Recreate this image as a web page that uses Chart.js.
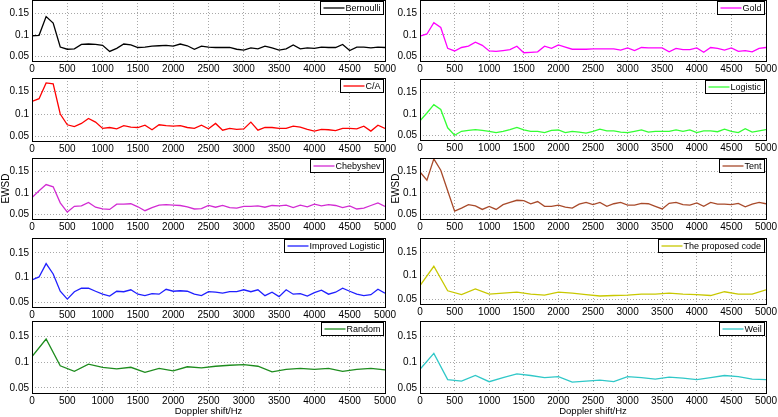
<!DOCTYPE html>
<html><head><meta charset="utf-8">
<script src="https://cdn.jsdelivr.net/npm/chart.js@4.4.1/dist/chart.umd.min.js"></script>
<style>
html,body{margin:0;padding:0;background:#fff;width:778px;height:417px;overflow:hidden;position:relative}
canvas{position:absolute}
</style></head><body>
<script>
// ---- data ----
const freq100 = [0,100,200,300,400,500,600,700,800,900,1000,1100,1200,1300,1400,1500,1600,1700,1800,1900,2000,2100,2200,2300,2400,2500,2600,2700,2800,2900,3000,3100,3200,3300,3400,3500,3600,3700,3800,3900,4000,4100,4200,4300,4400,4500,4600,4700,4800,4900,5000];
const freq200 = [0,200,400,600,800,1000,1200,1400,1600,1800,2000,2200,2400,2600,2800,3000,3200,3400,3600,3800,4000,4200,4400,4600,4800,5000];

const bernoulli = [0.098,0.099,0.142,0.127,0.072,0.067,0.068,0.078,0.079,0.078,0.076,0.062,0.069,0.079,0.077,0.071,0.072,0.074,0.075,0.076,0.074,0.079,0.075,0.067,0.074,0.072,0.071,0.071,0.071,0.067,0.065,0.070,0.068,0.074,0.070,0.065,0.068,0.077,0.068,0.070,0.069,0.072,0.071,0.071,0.078,0.064,0.072,0.072,0.070,0.072,0.071];
const gold = [0.097,0.102,0.128,0.117,0.069,0.063,0.071,0.074,0.083,0.076,0.063,0.062,0.064,0.066,0.074,0.059,0.060,0.061,0.074,0.069,0.077,0.072,0.067,0.067,0.067,0.068,0.068,0.068,0.068,0.065,0.070,0.064,0.071,0.070,0.070,0.070,0.061,0.069,0.066,0.066,0.070,0.060,0.071,0.069,0.065,0.070,0.062,0.064,0.061,0.069,0.071];
const ca = [0.128,0.134,0.169,0.167,0.100,0.076,0.072,0.079,0.090,0.082,0.068,0.070,0.067,0.074,0.071,0.070,0.075,0.065,0.076,0.074,0.073,0.074,0.070,0.068,0.075,0.067,0.079,0.064,0.068,0.066,0.067,0.082,0.064,0.070,0.070,0.068,0.068,0.073,0.071,0.066,0.062,0.066,0.065,0.063,0.068,0.068,0.067,0.073,0.062,0.075,0.068];
const logistic = [0.084,0.102,0.121,0.110,0.068,0.051,0.060,0.062,0.064,0.062,0.060,0.057,0.060,0.064,0.069,0.063,0.060,0.060,0.057,0.062,0.063,0.057,0.060,0.058,0.056,0.060,0.065,0.061,0.061,0.058,0.057,0.060,0.063,0.058,0.060,0.060,0.060,0.063,0.060,0.063,0.057,0.061,0.061,0.059,0.065,0.060,0.057,0.066,0.058,0.061,0.064];
const chebyshev = [0.089,0.105,0.119,0.114,0.077,0.056,0.069,0.070,0.078,0.067,0.063,0.062,0.074,0.074,0.075,0.068,0.059,0.066,0.072,0.073,0.072,0.071,0.068,0.063,0.064,0.071,0.067,0.071,0.066,0.065,0.069,0.069,0.070,0.067,0.071,0.070,0.072,0.066,0.072,0.068,0.074,0.070,0.073,0.071,0.066,0.070,0.063,0.065,0.071,0.077,0.069];
const tent = [0.148,0.129,0.178,0.152,0.105,0.058,0.065,0.073,0.070,0.062,0.069,0.062,0.073,0.078,0.083,0.082,0.075,0.080,0.069,0.069,0.072,0.067,0.065,0.074,0.078,0.073,0.078,0.069,0.075,0.078,0.072,0.072,0.076,0.075,0.069,0.063,0.076,0.078,0.073,0.072,0.077,0.069,0.078,0.074,0.074,0.073,0.076,0.068,0.074,0.078,0.075];
const improvedLogistic = [0.095,0.101,0.128,0.107,0.072,0.056,0.071,0.078,0.078,0.072,0.066,0.062,0.072,0.071,0.075,0.066,0.063,0.067,0.066,0.076,0.072,0.073,0.072,0.066,0.063,0.071,0.070,0.068,0.071,0.071,0.075,0.071,0.075,0.063,0.070,0.061,0.075,0.066,0.067,0.062,0.069,0.074,0.066,0.070,0.078,0.072,0.066,0.063,0.065,0.076,0.068];
const proposed = [0.079,0.120,0.068,0.060,0.072,0.061,0.063,0.065,0.061,0.059,0.065,0.063,0.060,0.057,0.058,0.059,0.061,0.061,0.063,0.061,0.060,0.058,0.066,0.061,0.061,0.070];
const random = [0.111,0.145,0.093,0.082,0.096,0.090,0.087,0.090,0.080,0.088,0.083,0.091,0.089,0.092,0.094,0.095,0.092,0.081,0.086,0.088,0.086,0.088,0.082,0.086,0.088,0.085];
const weil = [0.086,0.117,0.066,0.063,0.074,0.062,0.070,0.077,0.074,0.070,0.072,0.061,0.063,0.065,0.062,0.072,0.070,0.067,0.071,0.069,0.066,0.070,0.074,0.072,0.067,0.066];

const xTickValues = [0,500,1000,1500,2000,2500,3000,3500,4000,4500,5000];
const yTickValues = [0.05,0.1,0.15];
const yTickLabels = ['0.05','0.1','0.15'];
const xTitle = 'Doppler shift/Hz';
const yTitle = 'EWSD';

// ---- panels ----
const panels = [
  {name:'Bernoulli', xs:freq100, ys:bernoulli, color:'#000000', col:0, row:0},
  {name:'Gold', xs:freq100, ys:gold, color:'#ff00ff', col:1, row:0},
  {name:'C/A', xs:freq100, ys:ca, color:'#ff0000', col:0, row:1},
  {name:'Logistic', xs:freq100, ys:logistic, color:'#33ff33', col:1, row:1},
  {name:'Chebyshev', xs:freq100, ys:chebyshev, color:'#d22bd2', col:0, row:2},
  {name:'Tent', xs:freq100, ys:tent, color:'#a84a2a', col:1, row:2},
  {name:'Improved Logistic', xs:freq100, ys:improvedLogistic, color:'#2020ff', col:0, row:3},
  {name:'The proposed code', xs:freq200, ys:proposed, color:'#c8c800', col:1, row:3},
  {name:'Random', xs:freq200, ys:random, color:'#1e8c1e', col:0, row:4},
  {name:'Weil', xs:freq200, ys:weil, color:'#30c8c8', col:1, row:4}
];

const colGeom = [{l:32, r:385, yw:34, titlePad:2}, {l:420, r:766, yw:34, titlePad:4}];
const rowGeom = [
  [[0,61],[78,140.5],[157.6,218.7],[237.5,306.6],[321.2,393.5]],
  [[0,61],[78.6,139.7],[157.6,218.7],[237.5,303.7],[321.2,393.5]]
];

const FONT = '"Liberation Sans", Arial, Helvetica, sans-serif';
Chart.defaults.font.family = FONT;
Chart.defaults.color = '#000';

const boxLegendPlugin = {
  id: 'boxLegend',
  afterDraw(chart, args, opts) {
    const c = chart.ctx, a = chart.chartArea;
    c.save();
    c.strokeStyle = '#000'; c.lineWidth = 1; c.setLineDash([]);
    c.strokeRect(Math.round(a.left)+0.5, Math.round(a.top)+0.5, Math.round(a.right)-Math.round(a.left), Math.round(a.bottom)-Math.round(a.top));
    // legend
    c.font = '9px ' + FONT;
    const tw = c.measureText(opts.name).width;
    const h = 13, w = 3 + 21 + 1 + tw + 3;
    const x1 = Math.round(a.right - 2 - w) + 0.5, y1 = Math.round(a.top + 1) + 0.5;
    c.fillStyle = '#fff'; c.fillRect(x1, y1, w, h);
    c.strokeStyle = '#000'; c.lineWidth = 1; c.strokeRect(x1, y1, Math.round(w), h);
    c.strokeStyle = opts.color; c.lineWidth = 1.3;
    c.beginPath(); c.moveTo(x1+3, y1+h/2); c.lineTo(x1+24, y1+h/2); c.stroke();
    c.fillStyle = '#000'; c.textBaseline = 'middle'; c.textAlign = 'left';
    c.fillText(opts.name, x1+25, y1+h/2+0.5);
    c.restore();
  }
};

const PT = 12, PR = 16;
panels.forEach(p => {
  const cg = colGeom[p.col];
  const [top, bottom] = rowGeom[p.col][p.row];
  const isBottom = p.row === 4;
  const XH = isBottom ? 24 : 16;
  const plotW = cg.r - cg.l, plotH = bottom - top;
  const cv = document.createElement('canvas');
  const W = Math.round(plotW + cg.yw + PR), H = Math.round(plotH + PT + XH);
  cv.width = W; cv.height = H;
  cv.style.width = W + 'px'; cv.style.height = H + 'px';
  cv.style.left = (cg.l - cg.yw) + 'px';
  cv.style.top = (top - PT) + 'px';
  document.body.appendChild(cv);
  new Chart(cv, {
    type: 'line',
    data: { datasets: [{
      data: p.xs.map((x, i) => ({x, y: p.ys[i]})),
      borderColor: p.color, borderWidth: 1.3, pointRadius: 0, tension: 0, fill: false
    }]},
    options: {
      responsive: false, animation: false, devicePixelRatio: 1,
      layout: { padding: { top: PT, right: PR, left: 0, bottom: 0 } },
      plugins: { legend: {display:false}, tooltip: {enabled:false}, boxLegend: {name: p.name, color: p.color} },
      scales: {
        x: {
          type: 'linear', min: 0, max: 5000,
          afterBuildTicks: s => { s.ticks = xTickValues.map(v => ({value: v})); },
          afterFit: s => { s.height = XH; },
          ticks: { autoSkip: false, maxRotation: 0, padding: 2, font: {size: 10}, color: '#000',
                   callback: v => String(v) },
          grid: { color: '#a8a8a8', lineWidth: 1, drawTicks: false },
          border: { display: false, dash: [1, 2] },
          title: { display: isBottom, text: xTitle, font: {size: 9.5}, color: '#000', padding: {top: 0, bottom: 0} }
        },
        y: {
          type: 'linear', min: 0.04, max: 0.18,
          afterBuildTicks: s => { s.ticks = yTickValues.map(v => ({value: v})); },
          afterFit: s => { s.width = cg.yw; },
          ticks: { padding: 3, font: {size: 10}, color: '#000',
                   callback: (v) => yTickLabels[yTickValues.indexOf(v)] ?? '' },
          grid: { color: '#a8a8a8', lineWidth: 1, drawTicks: false },
          border: { display: false, dash: [1, 2] },
          title: { display: p.row === 2, text: yTitle, font: {size: 10}, color: '#000', padding: {top: cg.titlePad, bottom: 0} }
        }
      }
    },
    plugins: [boxLegendPlugin]
  });
});
</script>
</body></html>
